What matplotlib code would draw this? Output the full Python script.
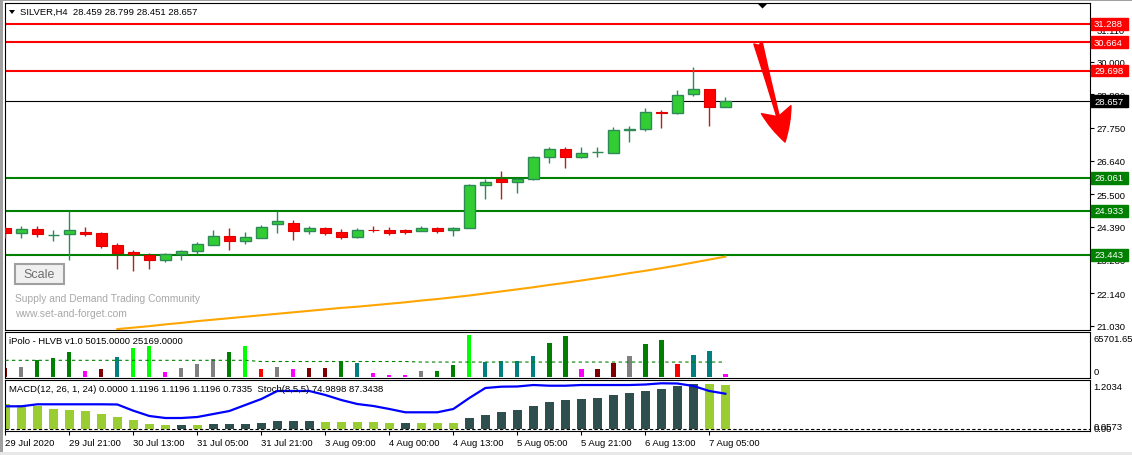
import numpy as np
import matplotlib
matplotlib.use('Agg')
import matplotlib.pyplot as plt
import matplotlib.transforms as mtransforms
from matplotlib.patches import Rectangle, Polygon

plt.rcParams['font.family'] = ['Liberation Sans', 'DejaVu Sans']

W, H = 1132, 456

# SILVER H4 candles, oldest first
opens = [24.352, 24.174, 24.318, 24.120, 24.140, 24.207, 24.184, 23.770, 23.534, 23.443,
         23.265, 23.477, 23.588, 23.790, 24.083, 23.924, 24.025, 24.497, 24.520, 24.261,
         24.352, 24.217, 24.059, 24.285, 24.285, 24.285, 24.241, 24.352, 24.275, 24.350,
         25.810, 26.024, 25.912, 26.014, 26.761, 27.032, 26.761, 26.924, 26.916, 27.678,
         27.699, 28.290, 28.255, 28.900, 29.070, 28.459]
highs = [24.386, 24.419, 24.419, 24.285, 24.935, 24.376, 24.217, 23.837, 23.611, 23.510,
         23.500, 23.611, 23.891, 24.285, 24.352, 24.217, 24.453, 24.935, 24.621, 24.419,
         24.386, 24.318, 24.352, 24.419, 24.386, 24.318, 24.409, 24.386, 24.386, 25.854,
         26.024, 26.295, 26.047, 26.804, 27.110, 27.099, 27.099, 27.099, 27.780, 27.813,
         28.424, 28.357, 29.035, 29.810, 29.080, 28.799]
lows = [24.015, 24.025, 24.059, 23.904, 23.251, 24.093, 23.689, 22.948, 22.881, 22.948,
        23.184, 23.251, 23.460, 23.780, 23.611, 23.813, 24.020, 24.194, 23.958, 24.160,
        24.127, 23.992, 24.025, 24.217, 24.127, 24.160, 24.235, 24.194, 24.093, 24.338,
        25.321, 25.321, 25.525, 25.966, 26.543, 26.374, 26.713, 26.747, 26.883, 27.258,
        27.630, 27.765, 28.207, 28.830, 27.830, 28.451]
closes = [24.184, 24.308, 24.140, 24.127, 24.275, 24.160, 23.746, 23.520, 23.477, 23.251,
          23.453, 23.588, 23.807, 24.083, 23.924, 24.049, 24.386, 24.588, 24.261, 24.352,
          24.194, 24.059, 24.285, 24.280, 24.194, 24.228, 24.342, 24.261, 24.342, 25.810,
          25.912, 25.912, 26.024, 26.761, 27.032, 26.747, 26.896, 26.930, 27.678, 27.712,
          28.290, 28.255, 28.866, 29.070, 28.445, 28.657]

# slow moving average (orange), from candle 7 on
ma_start = 7
ma_values = [20.92, 20.97, 21.02, 21.08, 21.13, 21.19, 21.24, 21.29, 21.34, 21.39,
             21.44, 21.49, 21.54, 21.59, 21.64, 21.68, 21.73, 21.78, 21.83, 21.89,
             21.94, 22.00, 22.06, 22.13, 22.20, 22.27, 22.34, 22.42, 22.49, 22.57,
             22.65, 22.73, 22.82, 22.90, 22.99, 23.08, 23.18, 23.28, 23.38]

# supply / demand levels
resistance_levels = [31.288, 30.664, 29.698]
support_levels = [26.061, 24.933, 23.443]
last_price = 28.657
price_ticks = [21.030, 22.140, 23.280, 24.390, 25.500, 26.640, 27.750, 28.890, 30.000, 31.110]

# iPolo HLVB volume
volumes = [14657, 16847, 28640, 32009, 42118, 10108, 13478, 33694, 48856, 52226,
           8424, 15162, 21901, 30325, 42118, 52226, 13478, 16847, 13478, 15162,
           15162, 26450, 23586, 6739, 3369, 3369, 10108, 10108, 20216, 70757,
           25270, 26450, 26450, 35379, 57280, 69073, 13478, 13478, 23586, 35379,
           55595, 62334, 21901, 37063, 43802, 5015]
vol_types = ['dr', 'gy', 'g', 'g', 'g', 'm', 'dr', 't', 'l', 'l',
             'm', 'gy', 'gy', 'gy', 'g', 'l', 'r', 'gy', 'm', 'dr',
             'dr', 'g', 't', 'm', 'm', 'm', 'gy', 'g', 'g', 'l',
             't', 't', 't', 't', 'g', 'g', 'm', 'dr', 'dr', 'gy',
             'g', 'g', 'r', 't', 't', 'm']
vol_avg = [28100, 28100, 28100, 28100, 28100, 28100, 28100, 28100, 28100, 28100,
           28100, 28100, 28100, 28100, 28100, 28100, 26100, 26100, 26100, 26100,
           26100, 26100, 26100, 26100, 26100, 26100, 25169, 25169, 25169, 25169,
           25169, 25169, 25169, 25169, 25169, 25169, 25169, 25169, 25169, 25169,
           25169, 25169, 25169, 25169, 25169, 25169]

# MACD histogram + stochastic line
macd_hist = [0.638, 0.605, 0.571, 0.501, 0.476, 0.451, 0.373, 0.296, 0.219, 0.116,
             0.090, 0.090, 0.088, 0.116, 0.118, 0.121, 0.142, 0.193, 0.195, 0.197,
             0.167, 0.165, 0.164, 0.162, 0.142, 0.144, 0.140, 0.138, 0.136, 0.270,
             0.347, 0.424, 0.476, 0.579, 0.682, 0.733, 0.759, 0.785, 0.862, 0.913,
             0.965, 1.016, 1.094, 1.145, 1.142, 1.120]
stoch_line = [0.571, 0.571, 0.623, 0.623, 0.623, 0.623, 0.623, 0.618, 0.458, 0.322,
              0.270, 0.270, 0.296, 0.373, 0.450, 0.605, 0.759, 0.965, 0.965, 0.965,
              0.862, 0.733, 0.630, 0.579, 0.502, 0.417, 0.417, 0.417, 0.502, 0.785,
              1.042, 1.076, 1.081, 1.119, 1.101, 1.101, 1.119, 1.119, 1.119, 1.119,
              1.132, 1.163, 1.158, 1.094, 0.965, 0.895]

tick_pos = [0, 4, 8, 12, 16, 20, 24, 28, 32, 36, 40, 44]
tick_labels = ['29 Jul 2020', '29 Jul 21:00', '30 Jul 13:00', '31 Jul 05:00',
               '31 Jul 21:00', '3 Aug 09:00', '4 Aug 00:00', '4 Aug 13:00',
               '5 Aug 05:00', '5 Aug 21:00', '6 Aug 13:00', '7 Aug 05:00']

VOL_COLORS = {'dr': '#800000', 'gy': '#808080', 'g': '#008000', 'm': '#FF00FF',
              't': '#008080', 'l': '#00FF00', 'r': '#FF0000'}
FS = 6.8


def px_rect(x0, y0, x1, y1):
    # pixel box (origin top-left) -> figure fraction [left, bottom, width, height]
    return [x0 / W, 1 - y1 / H, (x1 - x0) / W, (y1 - y0) / H]


def px(x, y):
    return x / W, 1 - y / H


fig = plt.figure(figsize=(W / 100, H / 100), dpi=100)
fig.patch.set_facecolor('white')

ax = fig.add_axes(px_rect(5, 4, 1090, 331))
axv = fig.add_axes(px_rect(5, 332.7, 1090, 378.7), sharex=ax)
axm = fig.add_axes(px_rect(5, 380.7, 1090, 432), sharex=ax)

x = np.arange(len(closes))
o, h, l, c = (np.array(a) for a in (opens, highs, lows, closes))
up = c >= o

# --- main price panel
for lvl in resistance_levels:
    ax.axhline(lvl, color='#FF0000', lw=1.5, zorder=1)
for lvl in support_levels:
    ax.axhline(lvl, color='#008000', lw=1.5, zorder=1)
ax.axhline(last_price, color='black', lw=0.8, zorder=1)

ax.plot(x[ma_start:], ma_values, color='#FFA500', lw=1.5, zorder=2)

ax.vlines(x[up], l[up], h[up], color='#2E8B57', lw=1, zorder=3)
ax.vlines(x[~up], l[~up], h[~up], color='#B22222', lw=1, zorder=3)
ax.bar(x[up], c[up] - o[up], bottom=o[up], width=0.66, color='#32CD32',
       edgecolor='#2E8B57', lw=1, zorder=4)
ax.bar(x[~up], o[~up] - c[~up], bottom=c[~up], width=0.66, color='#FF0000',
       edgecolor='#E00000', lw=0.8, zorder=4)

ax.set_xlim(-0.02, 67.79)
ax.set_ylim(20.889, 31.993)
ax.yaxis.tick_right()
ax.set_yticks(price_ticks)
ax.set_yticklabels([f'{t:.3f}' for t in price_ticks])
ax.tick_params(axis='y', length=3, width=0.8, labelsize=FS, pad=1.5, colors='black')
ax.tick_params(axis='x', bottom=False, labelbottom=False)

# price tags on the right scale
btr = mtransforms.blended_transform_factory(ax.transAxes, ax.transData)
tags = [(v, '#FF0000') for v in resistance_levels] + [(last_price, 'black')] + \
       [(v, '#008000') for v in support_levels]
for lvl, col in tags:
    ax.add_patch(Rectangle((1.0009, lvl - 0.2), 0.0341, 0.4, transform=btr,
                           facecolor=col, edgecolor=col, clip_on=False, zorder=10))
    ax.text(1.0037, lvl, f'{lvl:.3f}', transform=btr, color='white', fontsize=FS,
            va='center', ha='left', clip_on=False, zorder=11)

# red arrow
ax.annotate('', xy=(48.73, 27.27), xytext=(47.04, 30.64),
            arrowprops=dict(arrowstyle='fancy,head_length=1.1,head_width=1.0,tail_width=0.28',
                            fc='#FF0000', ec='#FF0000', mutation_scale=22,
                            shrinkA=0, shrinkB=0), zorder=6)

# --- volume panel
axv.bar(x, volumes, width=0.27, color=[VOL_COLORS[t] for t in vol_types], zorder=2)
axv.plot(x, vol_avg, color='#008000', lw=0.8, ls=(0, (3, 3)), zorder=3)
axv.set_ylim(-1179, 76317)
axv.set_yticks([])
axv.tick_params(axis='x', bottom=False, labelbottom=False)
axv.text(1.003, 0.863, '65701.65', transform=axv.transAxes, fontsize=FS, va='center')
axv.text(1.003, 0.13, '0', transform=axv.transAxes, fontsize=FS, va='center')

# --- MACD panel
hist = np.array(macd_hist)
rising = np.r_[False, np.diff(hist) >= 0]
axm.bar(x, hist, width=0.56, color=np.where(rising, '#2F4F4F', '#9ACD32'), zorder=2)
axm.plot(x, stoch_line, color='#0000FF', lw=1.6, zorder=3)
axm.axhline(-0.013, color='black', lw=0.8, ls=(0, (3, 2)), zorder=1)
axm.set_ylim(-0.0643, 1.2556)
axm.set_yticks([])
axm.text(1.003, 0.858, '1.2034', transform=axm.transAxes, fontsize=FS, va='center')
axm.text(1.003, 0.097, '0.0573', transform=axm.transAxes, fontsize=FS, va='center')
axm.text(1.003, 0.045, '0.00', transform=axm.transAxes, fontsize=FS, va='center')
axm.set_xticks(tick_pos)
axm.set_xticklabels(tick_labels, ha='left')
axm.tick_params(axis='x', length=3, width=0.8, labelsize=FS, pad=2)

for a in (ax, axv, axm):
    a.set_facecolor('white')
    for s in a.spines.values():
        s.set_color('black')
        s.set_linewidth(0.8)

# --- overlay texts / widgets
fig.text(*px(20, 12.5), 'SILVER,H4  28.459 28.799 28.451 28.657', fontsize=FS, va='center')
fig.patches.append(Polygon([px(9, 11), px(15, 11), px(12, 15)], closed=True,
                           transform=fig.transFigure, facecolor='black', edgecolor='none'))
fig.patches.append(Polygon([px(758, 5), px(767, 5), px(762.5, 9.5)], closed=True,
                           transform=fig.transFigure, facecolor='black', edgecolor='none'))

fig.patches.append(Rectangle(px(15, 285), 49 / W, 20 / H, transform=fig.transFigure,
                             facecolor='#F0F0F0', edgecolor='#A0A0A0', lw=1.5))
fig.text(*px(39.5, 275), 'Scale', fontsize=9, color='#6E6E6E', ha='center', va='center')
fig.text(*px(15, 298.7), 'Supply and Demand Trading Community', fontsize=7.4,
         color='#A8A8A8', va='center')
fig.text(*px(15, 313.7), 'www.set-and-forget.com', fontsize=7.5, color='#A8A8A8', va='center')

fig.text(*px(9, 341), 'iPolo - HLVB v1.0 5015.0000 25169.0000', fontsize=FS, va='center')
fig.text(*px(9, 389), 'MACD(12, 26, 1, 24) 0.0000 1.1196 1.1196 1.1196 0.7335  '
         'Stoch(8,5,5) 74.9898 87.3438', fontsize=FS, va='center', zorder=20)

# window frame
fig.patches.append(Rectangle((0, 0), 3 / W, 1, transform=fig.transFigure,
                             facecolor='#A0A0A0', edgecolor='none'))
fig.patches.append(Rectangle((0, 1 - 2 / H), 1, 2 / H, transform=fig.transFigure,
                             facecolor='#A0A0A0', edgecolor='none'))
fig.patches.append(Rectangle((0, 0), 1, 3 / H, transform=fig.transFigure,
                             facecolor='#E8E8E8', edgecolor='none'))

fig.savefig('out.png', dpi=100, facecolor=fig.get_facecolor())
